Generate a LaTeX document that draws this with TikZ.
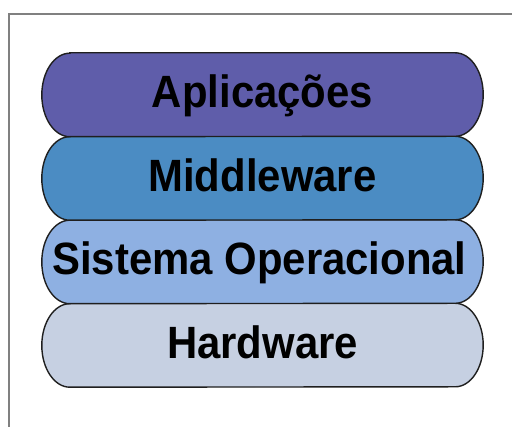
\documentclass[tikz,border=0pt]{standalone}
\usepackage{fontspec}
\setmainfont{Liberation Sans}
\definecolor{appcol}{HTML}{5F5DAA}
\definecolor{midcol}{HTML}{4B8CC3}
\definecolor{oscol}{HTML}{8EB0E2}
\definecolor{hwcol}{HTML}{C6D0E2}
\definecolor{framecol}{HTML}{808080}
\newcommand{\layertext}[1]{\scalebox{0.99}[1.07]{#1}}
\tikzset{
  layerlabel/.style={inner sep=0pt, minimum width=441pt, minimum height=83.5pt,
    text height=26pt, text depth=0pt,
    font=\fontsize{42.3}{42.3}\selectfont\bfseries},
  layershape/.style={draw=black!88, line width=1.4pt},
  frameline/.style={draw=framecol, line width=2.5pt}
}
% pill-shaped band behind a label node: elliptical ends
\newcommand{\bandshape}[2]{%
  \path[layershape, fill=#2]
    ([xshift=28pt]#1.north west) -- ([xshift=-28pt]#1.north east)
    arc[start angle=90, end angle=-90, x radius=28pt, y radius=41.75pt]
    -- ([xshift=28pt]#1.south west)
    arc[start angle=270, end angle=90, x radius=28pt, y radius=41.75pt]
    -- cycle;}
\begin{document}
\begin{tikzpicture}[x=1pt,y=1pt]
  \useasboundingbox (0,0) rectangle (512,427);
  \fill[white] (0,0) rectangle (512,427);
  % outer frame (top and left edges)
  \coordinate (ftl) at (9,413);
  \coordinate (ftr) at (512,413);
  \coordinate (fbl) at (9,0);
  \draw[frameline] (ftr) -- (ftl) -- (fbl);
  % label nodes of the four stacked layers
  \node[layerlabel] (app) at (262.5,332.25) {};
  \node[layerlabel] (mid) at (262.5,248.75) {};
  \node[layerlabel] (os)  at (262.5,165.25) {};
  \node[layerlabel] (hw)  at (262.5,81.75)  {};
  % bands, bottom first
  \bandshape{hw}{hwcol}
  \bandshape{os}{oscol}
  \bandshape{mid}{midcol}
  \bandshape{app}{appcol}
  % labels on top of the bands
  \node[layerlabel] at (app.center) {\layertext{Aplicações}};
  \node[layerlabel] at (mid.center) {\layertext{Middleware}};
  \node[layerlabel] at ([xshift=-3pt]os.center) {\layertext{Sistema Operacional}};
  \node[layerlabel] at (hw.center) {\layertext{Hardware}};
\end{tikzpicture}
\end{document}
